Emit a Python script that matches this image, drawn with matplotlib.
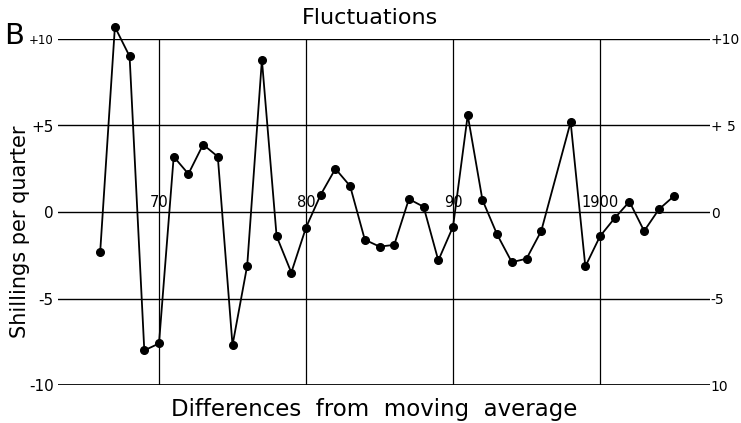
import matplotlib.pyplot as plt

# fluctuations, differences from moving average (shillings per quarter)
years = [1866, 1867, 1868, 1869, 1870, 1871, 1872, 1873, 1874, 1875,
         1876, 1877, 1878, 1879, 1880, 1881, 1882, 1883, 1884, 1885,
         1886, 1887, 1888, 1889, 1890, 1891, 1892, 1893, 1894, 1895,
         1896, 1898, 1899, 1900, 1901, 1902, 1903, 1904, 1905]
values = [-2.3, 10.7, 9.0, -8.0, -7.6, 3.2, 2.2, 3.9, 3.2, -7.7,
          -3.1, 8.8, -1.4, -3.5, -0.9, 1.0, 2.5, 1.5, -1.6, -2.0,
          -1.9, 0.75, 0.3, -2.8, -0.85, 5.6, 0.7, -1.3, -2.9, -2.7,
          -1.1, 5.2, -3.15, -1.4, -0.35, 0.6, -1.1, 0.15, 0.9]

decades = [1870, 1880, 1890, 1900]
decade_labels = ["70", "80", "90", "1900"]
yticks = [-10, -5, 0, 5, 10]
left_labels = ["-10", "-5", "0", "+5", "+10"]
right_labels = ["10", "-5", "0", "+ 5", "+10"]

fig = plt.figure(figsize=(7.41, 4.23), dpi=100)
ax = fig.add_axes([58 / 741, 38 / 423, 652 / 741, 346 / 423])

for v in yticks:
    ax.axhline(v, color="black", lw=2.0 if v == -10 else 1.0, zorder=1)
for d, lab in zip(decades, decade_labels):
    ax.axvline(d, color="black", lw=0.9, zorder=1)
    ax.text(d, 0.12, lab, ha="center", va="bottom", fontsize=10.5)

ax.plot(years, values, color="black", lw=1.3, marker="o", markersize=5.5,
        zorder=3, clip_on=False)

ax.set_xlim(1863.13, 1907.48)
ax.set_ylim(-10, 10)
for s in ax.spines.values():
    s.set_visible(False)
ax.set_xticks([])
ax.set_yticks(yticks)
ax.set_yticklabels(left_labels, fontsize=11)
ax.get_yticklabels()[-1].set_fontsize(8.5)
ax.tick_params(axis="y", length=0, pad=3)

ax2 = ax.twinx()
ax2.set_ylim(-10, 10)
for s in ax2.spines.values():
    s.set_visible(False)
ax2.set_yticks(yticks)
ax2.set_yticklabels(right_labels, fontsize=10)
ax2.tick_params(axis="y", length=0, pad=0.5)

fig.text(370 / 741, 1 - 18 / 423, "Fluctuations", ha="center", va="center", fontsize=16)
fig.text(374 / 741, 1 - 409 / 423, "Differences  from  moving  average",
         ha="center", va="center", fontsize=16.5)
fig.text(20 / 741, 1 - 232 / 423, "Shillings per quarter", ha="center", va="center",
         rotation=90, fontsize=15)
fig.text(4 / 741, 1 - 36 / 423, "B", ha="left", va="center", fontsize=21)

fig.savefig("out.png", dpi=100)
